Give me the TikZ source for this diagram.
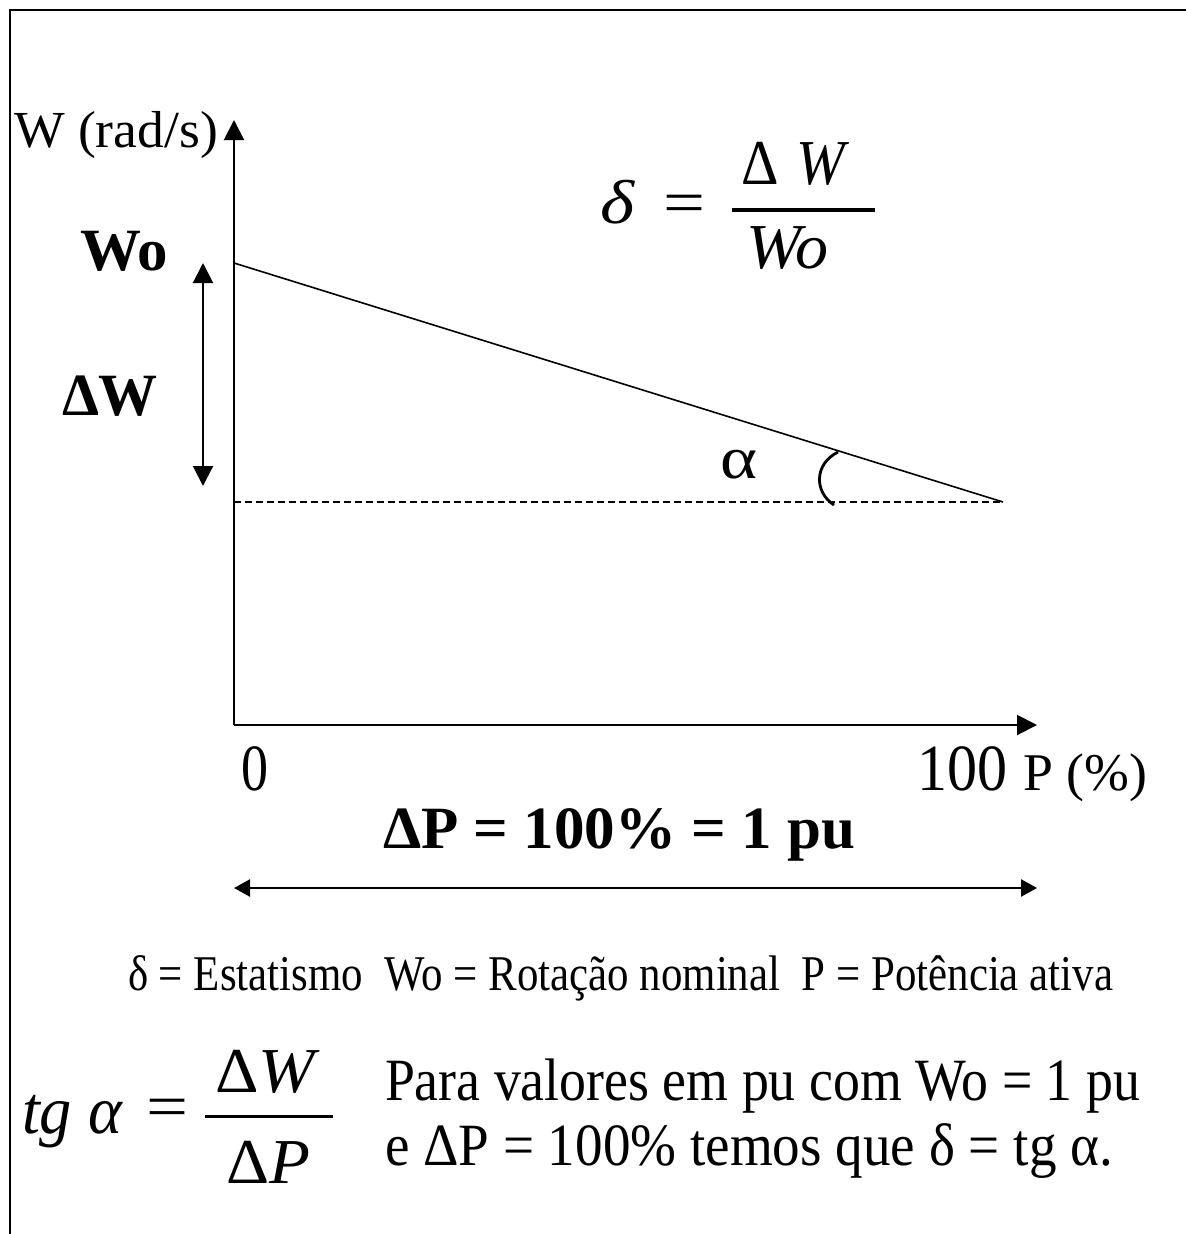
\documentclass[tikz,border=0pt]{standalone}
\usepackage{fontspec}
\usepackage{graphicx}
\setmainfont{Liberation Serif}
\usetikzlibrary{arrows.meta}
\newcommand{\txt}[3]{\resizebox{#1pt}{\height}{\fontsize{#2}{#2}\selectfont #3}}
\tikzset{
  lbl/.style={inner sep=0pt, outer sep=0pt, anchor=base west},
  axis/.style={line width=2pt, -{Triangle[length=20pt,width=20pt]}},
  dimarrow/.style={line width=2pt, {Triangle[length=20pt,width=20pt]}-{Triangle[length=20pt,width=20pt]}},
  dimarrowh/.style={line width=2.5pt, {Triangle[length=16pt,width=17pt]}-{Triangle[length=16pt,width=17pt]}},
  frame/.style={line width=2.5pt},
  droop/.style={line width=1.6pt},
  guide/.style={line width=1.6pt, dash pattern=on 7pt off 4pt},
}
\begin{document}
\begin{tikzpicture}[x=1pt,y=-1pt]
\useasboundingbox[fill=white] (0,0) rectangle (1186,1234);
% frame lines
\coordinate (TL) at (10,10);
\coordinate (TR) at (1186,10);
\coordinate (BL) at (10,1234);
\draw[frame] (TR) -- (TL) -- (BL);

% axes
\coordinate (O) at (234,725);
\coordinate (Ytip) at (234,120);
\coordinate (Xtip) at (1037,725);
\draw[axis] (O) -- (Ytip);
\draw[axis] (O) -- (Xtip);

% droop line and guide
\coordinate (W0) at (234,263);
\coordinate (Pend) at (1003,502);
\coordinate (Dbase) at (234,502);
\draw[droop] (W0) -- (Pend);
\draw[guide] (Dbase) -- (Pend);

% angle arc
\coordinate (A1) at (838,452);
\coordinate (A2) at (834,505);
\draw[line width=2.8pt] (A1) .. controls (814,464) and (814,492) .. (A2);

% Delta W arrow
\coordinate (DWt) at (203,263);
\coordinate (DWb) at (203,486);
\draw[dimarrow] (DWb) -- (DWt);

% Delta P arrow
\coordinate (DPl) at (234,888);
\coordinate (DPr) at (1037,888);
\draw[dimarrowh] (DPl) -- (DPr);

% labels
\node[lbl] (ylab) at (14,147) {\txt{204}{52}{W (rad/s)}};
\node[lbl] (wo) at (80,270) {\txt{88}{60}{\bfseries Wo}};
\node[lbl] (dw) at (62,415) {\txt{96}{60}{\bfseries ΔW}};
\node[lbl] (alpha) at (720,478) {\txt{37}{60}{α}};

% delta formula (top)
\node[lbl] (delta) at (600,223) {\txt{34}{62}{\itshape δ}};
\node[inner sep=0pt] (eq1) at (684,209) {\txt{42}{62}{=}};
\coordinate (bar1l) at (732,210);
\coordinate (bar1r) at (875,210);
\draw[line width=4pt] (bar1l) -- (bar1r);
\node[lbl] (num1) at (741,184) {\txt{108}{64}{Δ\hspace{0.3em}\textit{W}}};
\node[lbl] (den1) at (746,268) {\txt{82}{64}{\itshape Wo}};

% axis numbers
\node[lbl] (zero) at (241,790) {\txt{27}{66}{0}};
\node[lbl] (hundred) at (917,790) {\txt{90}{66}{100}};
\node[lbl] (pl) at (1023,790) {\txt{124}{53}{P (\%)}};

\node[lbl] (dp) at (383,848) {\txt{472}{60}{\bfseries ΔP = 100\% = 1 pu}};

\node[lbl] (legend) at (128,990) {\txt{985}{50}{δ = Estatismo\ \ Wo = Rotação nominal\ \ P = Potência ativa}};

% tg alpha formula
\node[lbl] (tg) at (22,1133) {\txt{100}{68}{\itshape tg α}};
\node[inner sep=0pt] (eq2) at (167,1113) {\txt{42}{62}{=}};
\coordinate (bar2l) at (205,1116);
\coordinate (bar2r) at (333,1116);
\draw[line width=3pt] (bar2l) -- (bar2r);
\node[lbl] (num2) at (215,1092) {\txt{105}{64}{Δ\textit{W}}};
\node[lbl] (den2) at (226,1183) {\txt{84}{64}{Δ\textit{P}}};

\node[lbl] (line1) at (385,1100) {\txt{755}{60}{Para valores em pu com Wo = 1 pu}};
\node[lbl] (line2) at (385,1165) {\txt{728}{60}{e ΔP = 100\% temos que δ = tg α.}};
\end{tikzpicture}
\end{document}
